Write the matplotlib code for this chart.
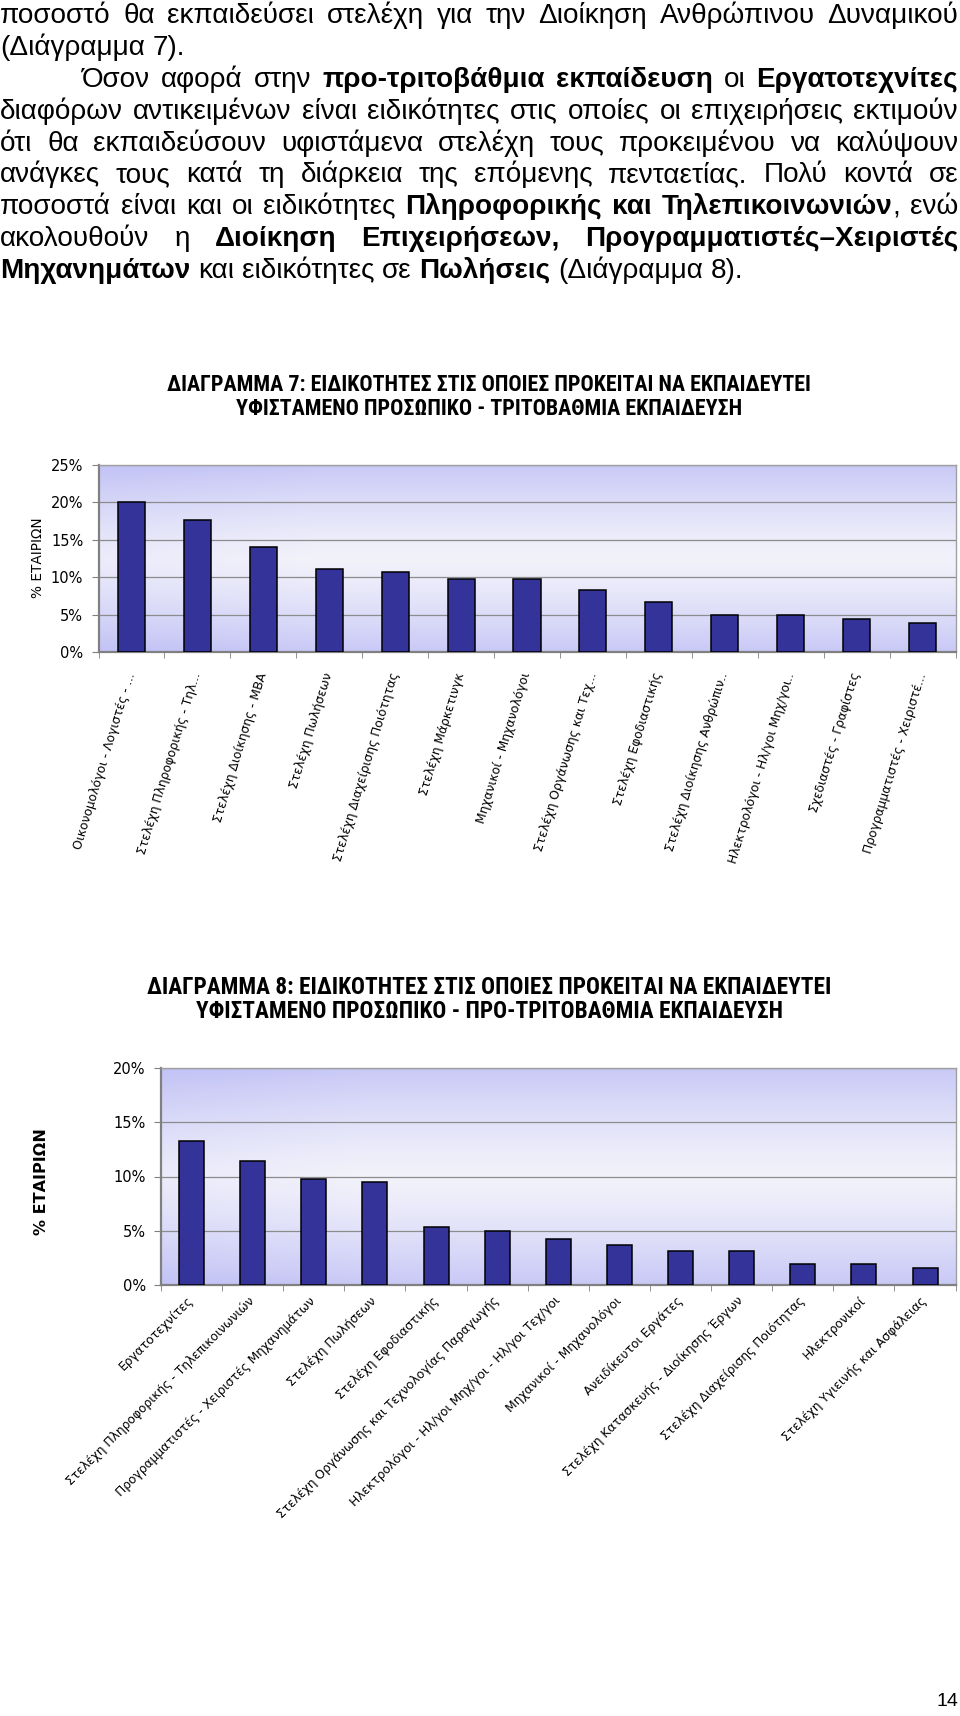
import numpy as np
import matplotlib
matplotlib.use("Agg")
import matplotlib.pyplot as plt
from matplotlib import font_manager as fm
from matplotlib.ticker import PercentFormatter

W, H = 960, 1716

# body text, * toggles bold
body_lines = [
    "ποσοστό θα εκπαιδεύσει στελέχη για την Διοίκηση Ανθρώπινου Δυναμικού",
    "(Διάγραμμα 7).",
    "Όσον αφορά στην *προ-τριτοβάθμια εκπαίδευση* οι *Εργατοτεχνίτες*",
    "διαφόρων αντικειμένων είναι ειδικότητες στις οποίες οι επιχειρήσεις εκτιμούν",
    "ότι θα εκπαιδεύσουν υφιστάμενα στελέχη τους προκειμένου να καλύψουν",
    "ανάγκες τους κατά τη διάρκεια της επόμενης πενταετίας. Πολύ κοντά σε",
    "ποσοστά είναι και οι ειδικότητες *Πληροφορικής και Τηλεπικοινωνιών*, ενώ",
    "ακολουθούν η *Διοίκηση Επιχειρήσεων, Προγραμματιστές–Χειριστές*",
    "*Μηχανημάτων* και ειδικότητες σε *Πωλήσεις* (Διάγραμμα 8).",
]
justified = [True, False, True, True, True, True, True, True, False]
indents = [0, 0, 82, 0, 0, 0, 0, 0, 0]

title7 = ["ΔΙΑΓΡΑΜΜΑ 7: ΕΙΔΙΚΟΤΗΤΕΣ ΣΤΙΣ ΟΠΟΙΕΣ ΠΡΟΚΕΙΤΑΙ ΝΑ ΕΚΠΑΙΔΕΥΤΕΙ",
          "ΥΦΙΣΤΑΜΕΝΟ ΠΡΟΣΩΠΙΚΟ - ΤΡΙΤΟΒΑΘΜΙΑ ΕΚΠΑΙΔΕΥΣΗ"]
cats7 = [
    "Οικονομολόγοι - Λογιστές - ...",
    "Στελέχη Πληροφορικής - Τηλ...",
    "Στελέχη Διοίκησης - MBA",
    "Στελέχη Πωλήσεων",
    "Στελέχη Διαχείρισης Ποιότητας",
    "Στελέχη Μάρκετινγκ",
    "Μηχανικοί - Μηχανολόγοι",
    "Στελέχη Οργάνωσης και Τεχ...",
    "Στελέχη Εφοδιαστικής",
    "Στελέχη Διοίκησης Ανθρώπιν..",
    "Ηλεκτρολόγοι - Ηλ/γοι Μηχ/γοι..",
    "Σχεδιαστές - Γραφίστες",
    "Προγραμματιστές - Χειριστέ...",
]
vals7 = [20.0, 17.6, 14.1, 11.1, 10.7, 9.7, 9.7, 8.3, 6.7, 5.0, 5.0, 4.4, 3.9]

title8 = ["ΔΙΑΓΡΑΜΜΑ 8: ΕΙΔΙΚΟΤΗΤΕΣ ΣΤΙΣ ΟΠΟΙΕΣ ΠΡΟΚΕΙΤΑΙ ΝΑ ΕΚΠΑΙΔΕΥΤΕΙ",
          "ΥΦΙΣΤΑΜΕΝΟ ΠΡΟΣΩΠΙΚΟ - ΠΡΟ-ΤΡΙΤΟΒΑΘΜΙΑ ΕΚΠΑΙΔΕΥΣΗ"]
cats8 = [
    "Εργατοτεχνίτες",
    "Στελέχη Πληροφορικής - Τηλεπικοινωνιών",
    "Προγραμματιστές - Χειριστές Μηχανημάτων",
    "Στελέχη Πωλήσεων",
    "Στελέχη Εφοδιαστικής",
    "Στελέχη Οργάνωσης και Τεχνολογίας Παραγωγής",
    "Ηλεκτρολόγοι - Ηλ/γοι Μηχ/γοι - Ηλ/γοι Τεχ/γοι",
    "Μηχανικοί - Μηχανολόγοι",
    "Ανειδίκευτοι Εργάτες",
    "Στελέχη Κατασκευής - Διοίκησης Έργων",
    "Στελέχη Διαχείρισης Ποιότητας",
    "Ηλεκτρονικοί",
    "Στελέχη Υγιεινής και Ασφάλειας",
]
vals8 = [13.3, 11.4, 9.8, 9.5, 5.3, 5.0, 4.2, 3.7, 3.1, 3.1, 1.9, 1.9, 1.6]

BODY = "Liberation Sans"
CHART = "DejaVu Sans"

fig = plt.figure(figsize=(W / 100, H / 100), dpi=100)
fig.patch.set_facecolor("white")
renderer = fig.canvas.get_renderer()


def px(x, y):
    return x / W, 1 - y / H


def text_width(s, **kw):
    t = fig.text(0, 0, s, **kw)
    w = t.get_window_extent(renderer).width
    t.remove()
    return w


# pick a narrow bold font for the chart titles if one is installed
names = {f.name for f in fm.fontManager.ttflist}
title_kw = {"family": "Liberation Sans", "fontweight": "bold"}
for nm in ["Liberation Sans Narrow", "Roboto Condensed", "Open Sans Condensed"]:
    if nm in names:
        title_kw = {"family": nm, "fontweight": "bold"}
        break
else:
    wc = text_width("ΔΙΑΓΡΑΜΜΑ", family="DejaVu Sans", fontweight="bold", fontstretch="condensed")
    wn = text_width("ΔΙΑΓΡΑΜΜΑ", family="DejaVu Sans", fontweight="bold")
    if wc < wn * 0.95:
        title_kw = {"family": "DejaVu Sans", "fontweight": "bold", "fontstretch": "condensed"}


def parse(line):
    words, bold = [], False
    for tok in line.split(" "):
        pieces = []
        for i, part in enumerate(tok.split("*")):
            if i > 0:
                bold = not bold
            if part:
                pieces.append((part, bold))
        words.append(pieces)
    return words


def word_widths(line, size):
    words = parse(line)
    ws = [sum(text_width(p, fontsize=size, family=BODY,
                         fontweight="bold" if b else "normal") for p, b in pcs)
          for pcs in words]
    return words, ws


def space_w(size):
    return text_width("a a", fontsize=size, family=BODY) - text_width("aa", fontsize=size, family=BODY)


# fit body size so last line has its natural width
w9, ws9 = word_widths(body_lines[8], 18)
nat = sum(ws9) + space_w(18) * (len(ws9) - 1)
body_size = 18 * 741 / nat

for i, line in enumerate(body_lines):
    base = 23 + 31.9 * i
    x0, x1 = indents[i], 958
    words, ws = word_widths(line, body_size)
    if justified[i]:
        gap = (x1 - x0 - sum(ws)) / (len(ws) - 1)
    else:
        gap = space_w(body_size)
    x = x0
    for pcs, w in zip(words, ws):
        xx = x
        for p, b in pcs:
            t = fig.text(*px(xx, base), p, fontsize=body_size, family=BODY,
                         fontweight="bold" if b else "normal", va="baseline", ha="left")
            xx += t.get_window_extent(renderer).width
        x += w + gap


def draw_title(lines, width, ys, cx):
    size = 13 * width / text_width(lines[0], fontsize=13, **title_kw)
    for s, y in zip(lines, ys):
        fig.text(*px(cx, y), s, fontsize=size, ha="center", va="center", **title_kw)


def gradient(ax, ymax, n):
    t = np.linspace(0, 1, 200)[:, None]
    u = np.linspace(0, 1, 200)[None, :]
    f = np.clip(np.abs(t - 0.5) * 2, 0, 1) ** 1.3
    f = np.clip(f * 0.9 + np.clip(0.25 - u, 0, 1) * 0.6, 0, 1)
    light = np.array([242, 242, 251]) / 255
    dark = np.array([196, 196, 246]) / 255
    img = light + (dark - light) * f[..., None]
    ax.imshow(img, extent=(-0.5, n - 0.5, 0, ymax), aspect="auto", origin="lower", zorder=0)


def chart(rect, cats, vals, ymax, rot, pad, lab_size, ylab, ylab_bold, ylab_size, ylab_pos):
    ax = fig.add_axes(rect)
    n = len(vals)
    x = np.arange(n)
    gradient(ax, ymax, n)
    ax.bar(x, vals, width=0.41, color="#333399", edgecolor="black", linewidth=1.1, zorder=3)
    ax.set_xlim(-0.5, n - 0.5)
    ax.set_ylim(0, ymax)
    ax.set_yticks(np.arange(0, ymax + 0.1, 5))
    ax.yaxis.set_major_formatter(PercentFormatter(decimals=0))
    ax.grid(axis="y", color="#8c8c8c", linewidth=0.9, zorder=1)
    ax.set_axisbelow(True)
    for s in ax.spines.values():
        s.set_color("#a0a0a0")
        s.set_linewidth(1.0)
    ax.spines["left"].set_color("#808080")
    ax.spines["bottom"].set_color("#808080")
    ax.spines["left"].set_linewidth(1.6)
    ax.spines["bottom"].set_linewidth(1.6)
    ax.set_xticks(x)
    ax.set_xticklabels(cats, rotation=rot, rotation_mode="anchor", ha="right", va="center",
                       fontsize=lab_size, family=CHART)
    ax.set_xticks(np.arange(n + 1) - 0.5, minor=True)
    ax.tick_params(axis="x", which="major", length=0, pad=pad)
    ax.tick_params(axis="x", which="minor", length=4, color="#808080")
    ax.tick_params(axis="y", length=5, color="#808080", labelsize=10.5, pad=6)
    for lbl in ax.get_yticklabels():
        lbl.set_family(CHART)
    fig.text(*px(*ylab_pos), ylab, rotation=90, ha="center", va="center", family=CHART,
             fontsize=ylab_size, fontweight="bold" if ylab_bold else "normal")
    return ax


draw_title(title7, 644, [385, 409], 489)
chart([98.5 / W, 1 - 652 / H, 857 / W, 187 / H], cats7, vals7, 25, 73, 15, 8.8,
      "% ΕΤΑΙΡΙΩΝ", False, 9.8, (38, 558))

draw_title(title8, 679, [987, 1012], 489)
chart([161 / W, 1 - 1285 / H, 794.6 / W, 217 / H], cats8, vals8, 20, 45, 10, 8.8,
      "% ΕΤΑΙΡΙΩΝ", True, 11.5, (42, 1182))

fig.text(*px(947, 1702), "14", fontsize=14, family=BODY, ha="center", va="center")

fig.savefig("out.png", dpi=100)
